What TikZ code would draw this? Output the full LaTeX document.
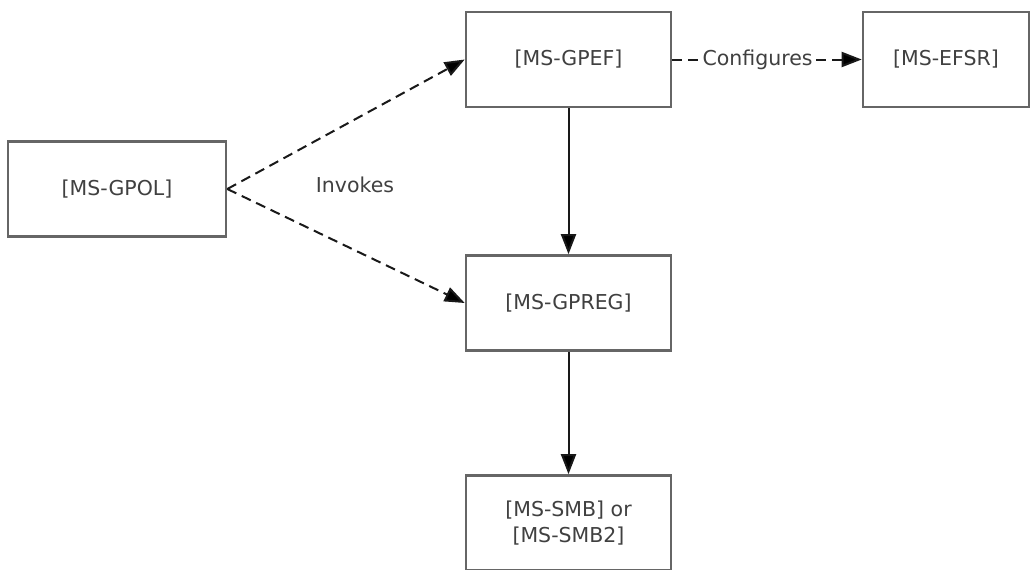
\documentclass[tikz,border=0pt]{standalone}
\usepackage{fontspec}
\setmainfont{DejaVu Sans}
\usetikzlibrary{arrows.meta}
\definecolor{boxline}{HTML}{666666}
\definecolor{txt}{HTML}{404040}
\begin{document}
\begin{tikzpicture}[x=1pt,y=-1pt,
  box/.style={draw=boxline,line width=2.6pt,fill=white,minimum width=205pt,minimum height=95pt,inner sep=0pt,font=\fontsize{20.5}{26}\selectfont,text=txt,align=center},
  link/.style={line width=2pt,draw=black!90,-{Triangle[length=20pt,width=15pt,fill=black]}},
  dlink/.style={link,dash pattern=on 10pt off 6pt},
  lbl/.style={font=\fontsize{20.5}{26}\selectfont,text=txt}]
\useasboundingbox (0,0) rectangle (1033,570);
\node[box,minimum width=218pt] (gpol) at (117,189) {[MS-GPOL]};
\node[box] (gpef) at (568.5,59.5) {[MS-GPEF]};
\node[box,minimum width=166pt] (efsr) at (946,59.5) {[MS-EFSR]};
\node[box] (gpreg) at (568.5,303) {[MS-GPREG]};
\node[box] (smb) at (568.5,523) {[MS-SMB] or\\{}{[MS-SMB2]}};
\draw[dlink] (gpol.east) -- (gpef.west);
\draw[dlink] (gpol.east) -- (gpreg.west);
\draw[link] (gpef.south) -- (gpreg.north);
\draw[link] (gpreg.south) -- (smb.north);
\draw[dlink] (gpef.east) -- node[lbl,fill=white,inner sep=1pt,pos=0.45] (cfg) {Configures} (efsr.west);
\node[lbl] (inv) at (355,185) {Invokes};
\end{tikzpicture}
\end{document}
